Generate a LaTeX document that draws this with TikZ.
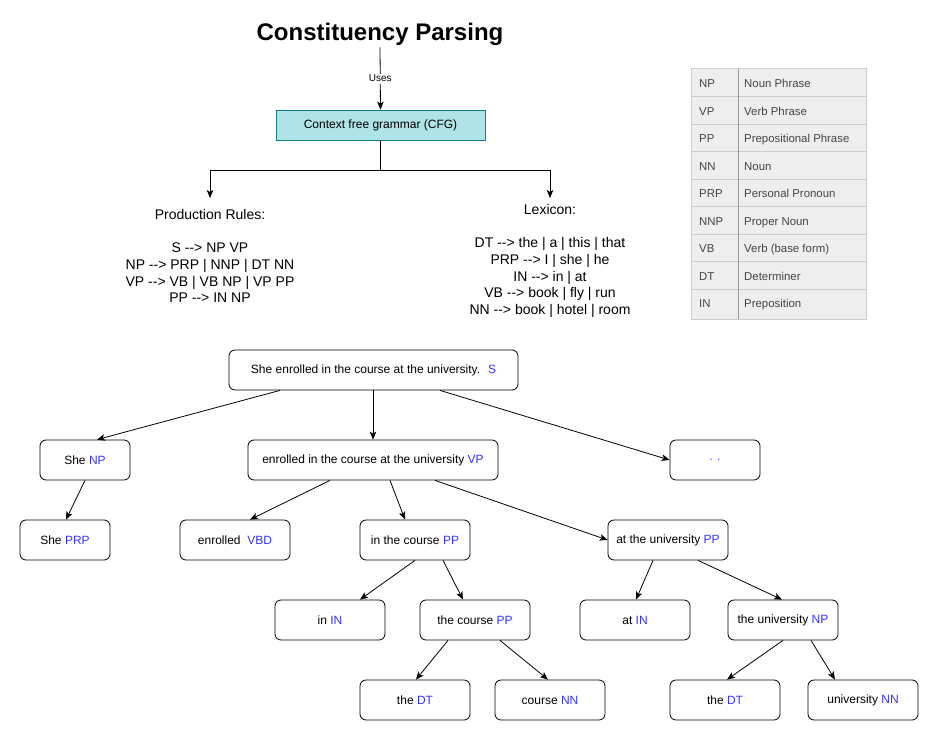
\documentclass[tikz,border=0pt]{standalone}
\usepackage{fontspec}
\setmainfont{Liberation Sans}
\usetikzlibrary{arrows.meta,calc}
\definecolor{tagblue}{RGB}{51,51,255}
\definecolor{cfgfill}{HTML}{B0E3E6}
\definecolor{cfgline}{HTML}{0E8088}
\definecolor{tabbg}{HTML}{EEEEEE}
\definecolor{tabline}{HTML}{CCCCCC}
\definecolor{tabcol}{HTML}{999999}
\definecolor{tabtext}{HTML}{444444}
\newcommand\tg[1]{\textcolor{tagblue}{#1}}
\newcommand\rlarrow{-{}->}
\begin{document}
\begin{tikzpicture}[x=1pt,y=-1pt,
  tnode/.style={draw, rounded corners=6pt, line width=0.8pt, minimum height=40pt, inner sep=0pt, font=\fontsize{12}{14}\selectfont},
  arr/.style={-{Stealth[length=8pt,width=6.5pt,inset=2pt]}, line width=0.8pt},
  rules/.style={align=center, font=\fontsize{14}{16.7}\selectfont, inner xsep=0pt, anchor=north},
  tabtxt/.style={anchor=base west, inner sep=0pt, text=tabtext, font=\fontsize{11.4}{13}\selectfont}
]
\useasboundingbox (0,0) rectangle (939,741);

% title and CFG
\node[font=\fontsize{24}{28}\selectfont\bfseries, inner ysep=1.5pt] (title) at (380,34.5) {Constituency Parsing};
\node[draw=cfgline, fill=cfgfill, line width=0.8pt, minimum width=209pt, minimum height=30pt, inner sep=0pt, font=\fontsize{12}{14}\selectfont] (cfg) at (380.5,125) {Context free grammar (CFG)};
\draw[arr] (title.south) -- node[fill=white, inner sep=1.5pt, font=\fontsize{10}{12}\selectfont] {Uses} (cfg.north);

\node[rules, inner ysep=11pt] (prod) at (210,198) {Production Rules:\\ \strut\\ S \rlarrow{} NP VP\\ NP \rlarrow{} PRP | NNP | DT NN\\ VP \rlarrow{} VB | VB NP | VP PP\\ PP \rlarrow{} IN NP};
\node[rules, inner ysep=6pt] (lex) at (550,198) {Lexicon:\\ \strut\\ DT \rlarrow{} the | a | this | that\\ PRP \rlarrow{} I | she | he\\ IN \rlarrow{} in | at\\ VB \rlarrow{} book | fly | run\\ NN \rlarrow{} book | hotel | room};
\draw[arr] (cfg.south) -- ++(0,30) -| (prod.north);
\draw[arr] (cfg.south) -- ++(0,30) -| (lex.north);

% table
\fill[tabbg] (691,68) rectangle (866,319);
\foreach \k in {1,...,8} \draw[tabline, line width=0.8pt] (691,69+27.5*\k) -- (866,69+27.5*\k);
\draw[tabcol, line width=0.8pt] (738,68) -- (738,319);
\draw[tabline, line width=0.8pt] (691,68) rectangle (866,319);
\foreach \a/\b [count=\i] in {NP/Noun Phrase, VP/Verb Phrase, PP/Prepositional Phrase, NN/Noun, PRP/Personal Pronoun, NNP/Proper Noun, VB/Verb (base form), DT/Determiner, IN/Preposition}{
  \node[tabtxt] (ta\i) at (699,60.25+27.5*\i) {\a};
  \node[tabtxt] (tb\i) at (744,60.25+27.5*\i) {\b};
}

% tree
\node[tnode, minimum width=289pt] (S) at (373.5,370) {She enrolled in the course at the university.~ \tg{S}};
\node[tnode, minimum width=90pt] (NP) at (85,460) {She \tg{NP}};
\node[tnode, minimum width=250pt] (VP) at (373,460) {enrolled in the course at the university \tg{VP}};
\node[tnode, minimum width=90pt] (dots) at (715,460) {\tg{. .}};
\node[tnode, minimum width=90pt] (PRP) at (65,540) {She \tg{PRP}};
\node[tnode, minimum width=110pt] (VBD) at (235,540) {enrolled~ \tg{VBD}};
\node[tnode, minimum width=110pt] (PPin) at (415,540) {in the course \tg{PP}};
\node[tnode, minimum width=120pt] (PPat) at (668,540) {at the university \tg{PP}};
\node[tnode, minimum width=110pt] (INin) at (330,620) {in \tg{IN}};
\node[tnode, minimum width=110pt] (PPcourse) at (475,620) {the course \tg{PP}};
\node[tnode, minimum width=110pt] (INat) at (635,620) {at \tg{IN}};
\node[tnode, minimum width=110pt] (NPuni) at (783,620) {the university \tg{NP}};
\node[tnode, minimum width=110pt] (DTa) at (415,700) {the \tg{DT}};
\node[tnode, minimum width=110pt] (NNcourse) at (550,700) {course \tg{NN}};
\node[tnode, minimum width=110pt] (DTb) at (725,700) {the \tg{DT}};
\node[tnode, minimum width=110pt] (NNuni) at (863,700) {university \tg{NN}};

\draw[arr] ([xshift=-93.5pt]S.south) -- ([xshift=12pt]NP.north);
\draw[arr] ([xshift=-0.5pt]S.south) -- (VP.north);
\draw[arr] ([xshift=66.5pt]S.south) -- (dots.west);
\draw[arr] (NP.south) -- ([xshift=1pt]PRP.north);
\draw[arr] ([xshift=-43pt]VP.south) -- ([xshift=15pt]VBD.north);
\draw[arr] ([xshift=17pt]VP.south) -- ([xshift=-10pt]PPin.north);
\draw[arr] ([xshift=62pt]VP.south) -- (PPat.west);
\draw[arr] (PPin.south) -- ([xshift=30pt]INin.north);
\draw[arr] ([xshift=28pt]PPin.south) -- ([xshift=-12pt]PPcourse.north);
\draw[arr] ([xshift=-15pt]PPat.south) -- ([xshift=1pt]INat.north);
\draw[arr] ([xshift=30pt]PPat.south) -- ([xshift=-1pt]NPuni.north);
\draw[arr] ([xshift=-27pt]PPcourse.south) -- ([xshift=1pt]DTa.north);
\draw[arr] ([xshift=25pt]PPcourse.south) -- ([xshift=-2pt]NNcourse.north);
\draw[arr] (NPuni.south) -- ([xshift=2pt]DTb.north);
\draw[arr] ([xshift=28pt]NPuni.south) -- ([xshift=-28pt]NNuni.north);
\end{tikzpicture}
\end{document}
